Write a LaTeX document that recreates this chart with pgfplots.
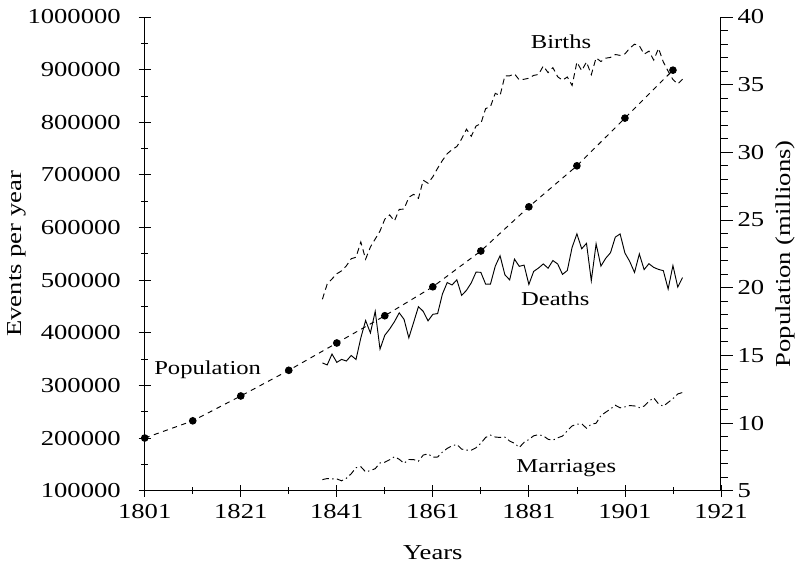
\documentclass[border=0pt]{standalone}
\usepackage{fontspec}
\setmainfont{Liberation Serif}[FakeStretch=1.25]
\usepackage{pgfplots}
\usepackage{pgfplotstable}
\pgfplotsset{compat=1.18}

% England and Wales, registered events per year
\pgfplotstableread{
year births deaths marriages
1838 463787 342760 121083
1839 492574 338979 123166
1840 502303 359634 122665
1841 512158 343847 122496
1842 517739 349519 118825
1843 527325 346445 123818
1844 540763 356950 132249
1845 543521 349366 143743
1846 572625 390315 145664
1847 539965 423304 135845
1848 563059 399833 138230
1849 578159 440839 141883
1850 593422 368995 152744
1851 615865 395396 154206
1852 624012 407135 158782
1853 612391 421097 164520
1854 634405 437905 159727
1855 635043 425703 152113
1856 657453 390506 159337
1857 663071 419815 159097
1858 655481 449656 156070
1859 689881 440781 167723
1860 684048 422721 170156
1861 696406 435114 163706
1862 712684 436566 164030
1863 727417 473837 173510
1864 740275 495531 180387
1865 748069 490909 185474
1866 753870 500689 187776
1867 768349 471073 179154
1868 786858 480622 176962
1869 773381 494828 176970
1870 792787 515329 181655
1871 797428 514879 190112
1872 825907 492265 201267
1873 829778 492520 205615
1874 854956 526632 202010
1875 850607 546453 201212
1876 887968 510315 201874
1877 888200 500496 194352
1878 891906 539872 190054
1879 880389 526255 182082
1880 881643 528624 191965
1881 883642 491935 197290
1882 889014 516654 204405
1883 890722 522997 206384
1884 906750 530828 204301
1885 894270 522750 197745
1886 903760 537276 196071
1887 886331 530758 200518
1888 879868 510971 203821
1889 885944 518353 213865
1890 869937 562248 223028
1891 914157 587925 226526
1892 897957 559684 227135
1893 914542 569958 218689
1894 890289 498967 226449
1895 922291 568997 228204
1896 915331 526727 242764
1897 921683 541487 249145
1898 923165 552141 255379
1899 928646 581799 262334
1900 927062 587830 257480
1901 929807 551585 259400
1902 940509 535538 261750
1903 948271 514628 261103
1904 945389 549784 257856
1905 929293 520031 260742
1906 935081 531281 270038
1907 918042 524221 276421
1908 940383 520456 264940
1909 914472 518003 260544
1910 896962 483247 267721
1911 881138 527810 274943
1912 872737 486939 283834
1913 881890 504975 286583
}\vital

% census population, millions
\pgfplotstableread{
year pop
1801 8.893
1811 10.164
1821 12.000
1831 13.897
1841 15.914
1851 17.928
1861 20.066
1871 22.712
1881 25.974
1891 29.003
1901 32.528
1911 36.070
}\census

\begin{document}
\begin{tikzpicture}
\pgfplotsset{
  every axis/.append style={
    scale only axis, width=433pt, height=356pt,
    xmin=1801, xmax=1921,
    tick align=outside,
    major tick length=9pt, minor tick length=5pt,
    every tick/.style={black, line width=0.6pt},
    font=\fontsize{16}{19}\selectfont,
    /pgf/number format/assume math mode=true,
    /pgf/number format/1000 sep={},
  },
}
\begin{axis}[
  axis x line=bottom, axis y line=left,
  axis line style={-, line width=0.9pt},
  ymin=100000, ymax=1000000,
  scaled y ticks=false,
  ytick={100000,200000,300000,400000,500000,600000,700000,800000,900000,1000000},
  minor ytick={150000,250000,350000,450000,550000,650000,750000,850000,950000},
  yticklabel style={/pgf/number format/fixed, /pgf/number format/precision=0, xshift=-10pt},
  xticklabel style={yshift=-2pt},
  xtick={1801,1821,1841,1861,1881,1901,1921},
  minor xtick={1811,1831,1851,1871,1891,1911},
  xlabel={Years}, ylabel={Events per year},
  xlabel style={at={(axis description cs:0.5,-0.13)}, anchor=center},
  ylabel style={at={(axis description cs:-0.222,0.5)}, anchor=center},
  clip=false,
]
\addplot[black, line width=0.7pt, dash pattern=on 4.5pt off 3pt] table[x=year, y=births] {\vital};
\addplot[black, line width=0.7pt] table[x=year, y=deaths] {\vital};
\addplot[black, line width=0.7pt, dash pattern=on 5pt off 2.5pt on 1pt off 2.5pt] table[x=year, y=marriages] {\vital};
\begin{scope}[every node/.style={font=\fontsize{14.8}{17}\selectfont}]
\node at (1887.7,952600) {Births};
\node at (1886.5,464700) {Deaths};
\node at (1888.8,143000) {Marriages};
\node at (1814.1,329300) {Population};
\end{scope}
% fix the page margins around the axis box
\path (axis description cs:0,1) ++(-108.75pt,12.75pt) coordinate (tl);
\path (axis description cs:1,0) ++(57.75pt,-59pt) coordinate (br);
\path[use as bounding box] (tl) rectangle (br);
\end{axis}
\begin{axis}[
  axis x line=none, axis y line*=right,
  axis line style={-, line width=0.8pt},
  ymin=5, ymax=40,
  ytick={5,10,15,20,25,30,35,40},
  minor tick num=4,
  ylabel={Population (millions)},
  ylabel style={at={(axis description cs:1.111,0.5)}, anchor=center},
  clip=false,
]
\addplot[black, line width=0.7pt, dash pattern=on 3.8pt off 3.5pt, mark=*, mark size=2.5pt, mark options={solid}] table[x=year, y=pop] {\census};
\end{axis}
\end{tikzpicture}
\end{document}
